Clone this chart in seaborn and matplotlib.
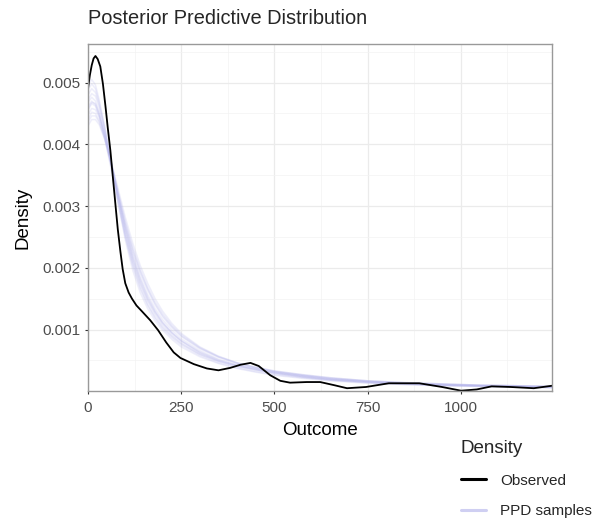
import matplotlib
matplotlib.use("Agg")
import matplotlib.pyplot as plt
from matplotlib.lines import Line2D
from matplotlib.ticker import MultipleLocator
import pandas as pd
import seaborn as sns

# ── Data ──────────────────────────────────────────────────────────────────────

obs_x = [0, 5, 10, 15, 20, 26, 33, 40, 47, 53, 60, 67, 74, 80, 87, 93, 100,
         109, 118, 130, 144, 167, 188, 210, 230, 248, 284, 319, 350, 382, 409,
         436, 458, 489, 516, 542, 587, 623, 660, 695, 746, 807, 889, 950, 1001,
         1043, 1083, 1134, 1196, 1245]
obs_y = [0.00490, 0.00512, 0.00528, 0.00539, 0.00543, 0.00538, 0.00526,
         0.00498, 0.00461, 0.00427, 0.00390, 0.00345, 0.00300, 0.00262,
         0.00226, 0.00198, 0.00175, 0.00160, 0.00150, 0.00139, 0.00130,
         0.00115, 0.00099, 0.00079, 0.00063, 0.00054, 0.00044, 0.00037,
         0.00034, 0.00038, 0.00043, 0.00046, 0.00041, 0.00026, 0.00017,
         0.00014, 0.00015, 0.00015, 0.00010, 0.00005, 0.00007, 0.00013,
         0.00013, 0.00007, 0.00001, 0.00003, 0.00008, 0.00007, 0.00005,
         0.00009]

ppd_x = [0, 10, 20, 30, 45, 60, 80, 100, 120, 140, 160, 180, 200, 225, 250,
         300, 350, 400, 450, 500, 575, 650, 750, 850, 950, 1050, 1150, 1245]
ppd_1 = [0.00468, 0.00476, 0.00470, 0.00452, 0.00416, 0.00372, 0.00312,
         0.00255, 0.00210, 0.00174, 0.00146, 0.00124, 0.00107, 0.00091,
         0.00078, 0.00060, 0.00048, 0.00040, 0.00034, 0.00029, 0.00023,
         0.00019, 0.00015, 0.00012, 0.00010, 0.00009, 0.00008, 0.00007]
ppd_2 = [0.00440, 0.00452, 0.00450, 0.00438, 0.00408, 0.00370, 0.00318,
         0.00268, 0.00226, 0.00192, 0.00164, 0.00140, 0.00121, 0.00103,
         0.00089, 0.00069, 0.00055, 0.00045, 0.00038, 0.00032, 0.00026,
         0.00021, 0.00017, 0.00014, 0.00012, 0.00010, 0.00009, 0.00008]
ppd_3 = [0.00495, 0.00505, 0.00496, 0.00472, 0.00428, 0.00376, 0.00308,
         0.00245, 0.00196, 0.00160, 0.00134, 0.00114, 0.00099, 0.00084,
         0.00072, 0.00056, 0.00045, 0.00037, 0.00031, 0.00026, 0.00021,
         0.00017, 0.00013, 0.00011, 0.00009, 0.00008, 0.00007, 0.00006]
ppd_4 = [0.00455, 0.00466, 0.00462, 0.00447, 0.00414, 0.00374, 0.00320,
         0.00264, 0.00218, 0.00182, 0.00153, 0.00130, 0.00112, 0.00095,
         0.00082, 0.00063, 0.00050, 0.00042, 0.00036, 0.00031, 0.00025,
         0.00020, 0.00016, 0.00013, 0.00011, 0.00009, 0.00008, 0.00007]
ppd_5 = [0.00430, 0.00440, 0.00440, 0.00432, 0.00408, 0.00376, 0.00330,
         0.00282, 0.00240, 0.00204, 0.00175, 0.00150, 0.00130, 0.00110,
         0.00094, 0.00072, 0.00057, 0.00046, 0.00038, 0.00032, 0.00026,
         0.00021, 0.00016, 0.00013, 0.00011, 0.00010, 0.00009, 0.00008]
ppd_6 = [0.00480, 0.00490, 0.00484, 0.00464, 0.00424, 0.00378, 0.00316,
         0.00258, 0.00212, 0.00176, 0.00148, 0.00127, 0.00110, 0.00094,
         0.00081, 0.00062, 0.00049, 0.00041, 0.00035, 0.00030, 0.00024,
         0.00019, 0.00015, 0.00012, 0.00010, 0.00009, 0.00008, 0.00006]
ppd_7 = [0.00462, 0.00470, 0.00464, 0.00446, 0.00410, 0.00366, 0.00306,
         0.00250, 0.00205, 0.00169, 0.00141, 0.00120, 0.00104, 0.00089,
         0.00077, 0.00060, 0.00049, 0.00041, 0.00035, 0.00029, 0.00023,
         0.00018, 0.00014, 0.00012, 0.00010, 0.00008, 0.00007, 0.00006]
ppd_8 = [0.00448, 0.00458, 0.00456, 0.00444, 0.00414, 0.00377, 0.00325,
         0.00274, 0.00230, 0.00195, 0.00166, 0.00142, 0.00123, 0.00105,
         0.00090, 0.00070, 0.00056, 0.00046, 0.00039, 0.00033, 0.00027,
         0.00022, 0.00017, 0.00014, 0.00012, 0.00010, 0.00009, 0.00008]
ppd_9 = [0.00472, 0.00482, 0.00478, 0.00460, 0.00422, 0.00377, 0.00318,
         0.00262, 0.00216, 0.00180, 0.00151, 0.00129, 0.00111, 0.00095,
         0.00082, 0.00064, 0.00051, 0.00042, 0.00036, 0.00030, 0.00024,
         0.00019, 0.00015, 0.00012, 0.00010, 0.00009, 0.00008, 0.00007]
ppd_10 = [0.00436, 0.00446, 0.00446, 0.00436, 0.00410, 0.00374, 0.00324,
          0.00275, 0.00233, 0.00198, 0.00169, 0.00145, 0.00126, 0.00107,
          0.00092, 0.00071, 0.00056, 0.00046, 0.00039, 0.00033, 0.00027,
          0.00022, 0.00017, 0.00014, 0.00012, 0.00010, 0.00009, 0.00008]
ppd_11 = [0.00488, 0.00498, 0.00490, 0.00468, 0.00426, 0.00377, 0.00312,
          0.00251, 0.00203, 0.00166, 0.00139, 0.00118, 0.00102, 0.00087,
          0.00075, 0.00058, 0.00046, 0.00038, 0.00032, 0.00027, 0.00022,
          0.00018, 0.00014, 0.00011, 0.00009, 0.00008, 0.00007, 0.00006]
ppd_12 = [0.00458, 0.00468, 0.00466, 0.00450, 0.00416, 0.00375, 0.00322,
          0.00268, 0.00222, 0.00186, 0.00157, 0.00134, 0.00116, 0.00099,
          0.00085, 0.00066, 0.00052, 0.00043, 0.00037, 0.00031, 0.00025,
          0.00020, 0.00016, 0.00013, 0.00011, 0.00009, 0.00008, 0.00007]
ppd_samples = [ppd_1, ppd_2, ppd_3, ppd_4, ppd_5, ppd_6,
               ppd_7, ppd_8, ppd_9, ppd_10, ppd_11, ppd_12]

x_ticks = [0, 250, 500, 750, 1000]
y_ticks = [0.001, 0.002, 0.003, 0.004, 0.005]

# ── Frames ────────────────────────────────────────────────────────────────────

obs_df = pd.DataFrame({"x": obs_x, "y": obs_y})
ppd_df = pd.concat(
    [pd.DataFrame({"x": ppd_x, "y": s, "draw": i}) for i, s in enumerate(ppd_samples)],
    ignore_index=True,
)

# ── Plot ──────────────────────────────────────────────────────────────────────

sns.set_theme(style="white")
plt.rcParams["font.family"] = ["Liberation Sans", "DejaVu Sans"]

PPD_COL = "#b4b4ec"
fig = plt.figure(figsize=(5.97, 5.19), dpi=100)
ax = fig.add_axes([88 / 597, 1 - 391 / 519, (552 - 88) / 597, (391 - 44) / 519])

sns.lineplot(data=ppd_df, x="x", y="y", units="draw", estimator=None,
             color=PPD_COL, alpha=0.22, lw=1.1, ax=ax, legend=False)
sns.lineplot(data=obs_df, x="x", y="y", color="black", lw=1.3, ax=ax,
             legend=False, sort=False)

ax.set_xlim(0, 1245)
ax.set_ylim(0.000005, 0.005624)
ax.set_xticks(x_ticks)
ax.set_yticks(y_ticks)
ax.set_yticklabels([f"{v:.3f}" for v in y_ticks])
ax.xaxis.set_minor_locator(MultipleLocator(125))
ax.yaxis.set_minor_locator(MultipleLocator(0.0005))

ax.grid(which="major", color="#ebebeb", lw=0.9)
ax.grid(which="minor", color="#f3f3f3", lw=0.5)
ax.set_axisbelow(True)
for sp in ax.spines.values():
    sp.set_color("#999999")
    sp.set_linewidth(1.0)

ax.tick_params(axis="both", which="major", length=2.5, width=0.8, color="#333333",
               labelcolor="#4d4d4d", labelsize=11, pad=3, bottom=True, left=True)
ax.tick_params(axis="x", which="major", pad=4.5)
ax.tick_params(which="minor", length=0)

ax.set_xlabel("Outcome", fontsize=13.5, color="black", labelpad=5)
ax.set_ylabel("Density", fontsize=13.5, color="black", labelpad=8)
fig.text(88 / 597, 1 - 19 / 519, "Posterior Predictive Distribution",
         fontsize=14.4, ha="left", va="center")

handles = [Line2D([0], [0], color="black", lw=2.2),
           Line2D([0], [0], color="#cfcff2", lw=2.2)]
leg = fig.legend(handles, ["Observed", "PPD samples"], title="Density",
                 loc="upper left", bbox_to_anchor=(461 / 597, 1 - 440 / 519),
                 frameon=False, fontsize=11, title_fontsize=13.5,
                 handlelength=1.65, handletextpad=0.9, labelspacing=1.1,
                 borderaxespad=0, borderpad=0)
leg._legend_box.align = "left"
leg._legend_box.sep = 12

fig.savefig("out.png", dpi=100)
plt.close(fig)
